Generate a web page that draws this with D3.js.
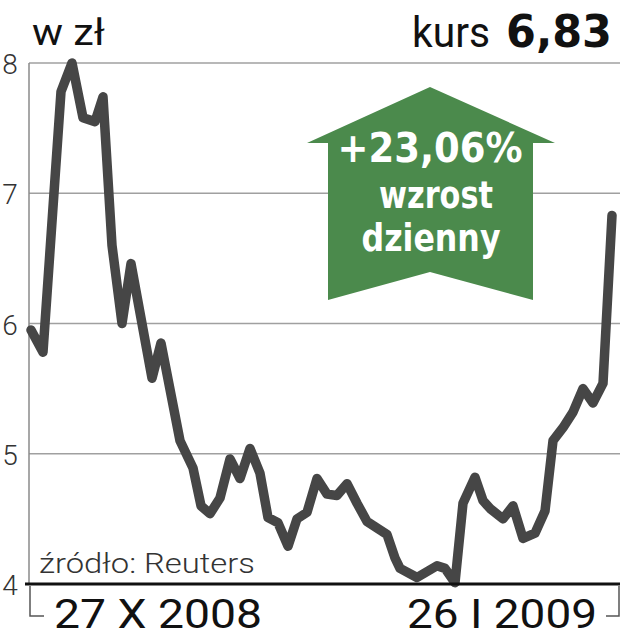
<!DOCTYPE html>
<html>
<head>
<meta charset="utf-8">
<script src="https://cdn.jsdelivr.net/npm/d3@7"></script>
<style>
	body { margin: 0; background: #fff; }
	svg { display: block; }
</style>
</head>
<body>
<div id="myChart"></div>
<script>
// session index (trading days from 27 X 2008) and closing price in zl
var sessions = [0, 1.2, 3.0, 4.1, 5.2, 6.4, 7.2, 8.1, 9.1, 10.0, 12.1, 13.0, 14.9, 16.2, 17.0, 17.9,
	18.9, 19.9, 20.9, 21.9, 22.9, 23.7, 24.7, 25.7, 26.6, 27.6, 28.6, 29.6, 30.6, 31.6, 32.6, 33.6,
	35.6, 36.4, 36.9, 38.6, 40.6, 41.4, 42.4, 43.2, 44.4, 45.2, 45.9, 47.2, 48.2, 49.2, 50.4, 51.4,
	52.2, 53.2, 54.2, 55.2, 56.2, 57.2, 58.1];
var prices = [5.95, 5.78, 7.78, 8.0, 7.58, 7.55, 7.74, 6.6, 6.0, 6.46, 5.58, 5.85, 5.1, 4.89, 4.6, 4.54,
	4.66, 4.96, 4.81, 5.04, 4.85, 4.51, 4.47, 4.29, 4.5, 4.55, 4.81, 4.69, 4.68, 4.77, 4.62, 4.48,
	4.38, 4.2, 4.12, 4.05, 4.14, 4.12, 4.01, 4.62, 4.82, 4.64, 4.58, 4.5, 4.6, 4.35, 4.39, 4.56,
	5.1, 5.2, 5.32, 5.5, 5.39, 5.54, 6.83];
var yTicks = [4, 5, 6, 7, 8];
var dateLabels = ['27 X 2008', '26 I 2009'];
var unitLabel = 'w zł';
var lastPrice = '6,83';
var dailyChange = ['+23,06%', 'wzrost', 'dzienny'];
var sourceLabel = 'źródło: Reuters';

function plotChart() {
	var width = 620, height = 640;
	var svg = d3.select('#myChart')
		.append('svg')
		.attr('width', width)
		.attr('height', height);

	var x = d3.scaleLinear()
		.domain([0, d3.max(sessions)])
		.range([31, 612]);
	var y = d3.scaleLinear()
		.domain([4, 8])
		.range([584, 63]);

	// gridlines
	svg.append('g')
		.selectAll('line')
		.data(yTicks.slice(1))
		.enter().append('line')
		.attr('x1', 29)
		.attr('x2', 620)
		.attr('y1', function (d) { return y(d) })
		.attr('y2', function (d) { return y(d) })
		.attr('stroke', '#a0a0a0')
		.attr('stroke-width', 1.5);

	// left axis line
	svg.append('line')
		.attr('x1', 29).attr('x2', 29)
		.attr('y1', y(8)).attr('y2', y(4))
		.attr('stroke', '#8a8a8a')
		.attr('stroke-width', 1.5);

	// y tick labels
	svg.append('g')
		.selectAll('text')
		.data(yTicks)
		.enter().append('text')
		.attr('x', 10)
		.attr('y', function (d) { return y(d) + 11 })
		.attr('text-anchor', 'middle')
		.style('font-family', 'Roboto')
		.style('font-weight', 300)
		.style('font-size', '28px')
		.style('fill', '#333')
		.text(function (d) { return d });

	// green arrow
	var arrow = svg.append('g');
	arrow.append('path')
		.attr('d', 'M430,87 L555,143 L533,143 L533,300 L430,272 L328,300 L328,143 L307,143 Z')
		.attr('fill', '#4b8a4c');

	// three lines of white text
	var lineX = [430, 436, 431], lineY = [162, 208, 251];
	var lineW = [185, 114, 139], lineSize = [41, 36.5, 36.5];
	arrow.selectAll('text.change')
		.data(dailyChange)
		.enter().append('text')
		.attr('class', 'change')
		.attr('x', function (d, i) { return lineX[i] })
		.attr('y', function (d, i) { return lineY[i] })
		.attr('text-anchor', 'middle')
		.style('font-family', function (d, i) { return i == 0 ? '"DejaVu Sans Condensed", "DejaVu Sans"' : '"DejaVu Sans"' })
		.style('font-weight', 'bold')
		.style('fill', '#fff')
		.style('font-size', function (d, i) { return lineSize[i] + 'px' })
		.attr('textLength', function (d, i) { return lineW[i] })
		.attr('lengthAdjust', 'spacingAndGlyphs')
		.text(function (d) { return d });

	// source
	svg.append('text')
		.attr('x', 39).attr('y', 573)
		.style('font-family', 'Roboto')
		.style('font-weight', 300)
		.style('font-size', '28px')
		.style('fill', '#333')
		.attr('textLength', 216)
		.attr('lengthAdjust', 'spacingAndGlyphs')
		.text(sourceLabel);

	// price line
	var line = d3.line()
		.x(function (d, i) { return x(sessions[i]) })
		.y(function (d) { return y(d) });
	svg.append('path')
		.datum(prices)
		.attr('d', line)
		.attr('fill', 'none')
		.attr('stroke', '#464646')
		.attr('stroke-width', 9.5)
		.attr('stroke-linejoin', 'round')
		.attr('stroke-linecap', 'round');

	// bottom axis
	svg.append('line')
		.attr('x1', 25).attr('x2', 620)
		.attr('y1', y(4)).attr('y2', y(4))
		.attr('stroke', '#111')
		.attr('stroke-width', 3);

	// date brackets
	svg.append('path')
		.attr('d', 'M30,586 L30,616 L44,616 M619,586 L619,616 L606,616')
		.attr('fill', 'none')
		.attr('stroke', '#555')
		.attr('stroke-width', 1.5);

	svg.append('g')
		.selectAll('text')
		.data(dateLabels)
		.enter().append('text')
		.attr('x', function (d, i) { return i == 0 ? 54 : 597 })
		.attr('y', 628)
		.attr('text-anchor', function (d, i) { return i == 0 ? 'start' : 'end' })
		.style('font-family', 'Roboto')
		.style('font-size', '41px')
		.style('fill', '#111')
		.attr('textLength', function (d, i) { return i == 0 ? 208 : 190 })
		.attr('lengthAdjust', 'spacingAndGlyphs')
		.text(function (d) { return d });

	// header
	svg.append('text')
		.attr('x', 32).attr('y', 45)
		.style('font-family', 'Roboto')
		.style('font-size', '36px')
		.style('fill', '#111')
		.attr('textLength', 73)
		.attr('lengthAdjust', 'spacingAndGlyphs')
		.text(unitLabel);

	svg.append('text')
		.attr('x', 412).attr('y', 47)
		.style('font-family', 'Roboto')
		.style('font-size', '42px')
		.style('fill', '#111')
		.attr('textLength', 78)
		.attr('lengthAdjust', 'spacingAndGlyphs')
		.text('kurs');
	svg.append('text')
		.attr('x', 506).attr('y', 47)
		.style('font-family', '"DejaVu Sans"')
		.style('font-weight', 'bold')
		.style('font-size', '45px')
		.style('fill', '#111')
		.attr('textLength', 106)
		.attr('lengthAdjust', 'spacingAndGlyphs')
		.text(lastPrice);
}

plotChart();
</script>
</body>
</html>
